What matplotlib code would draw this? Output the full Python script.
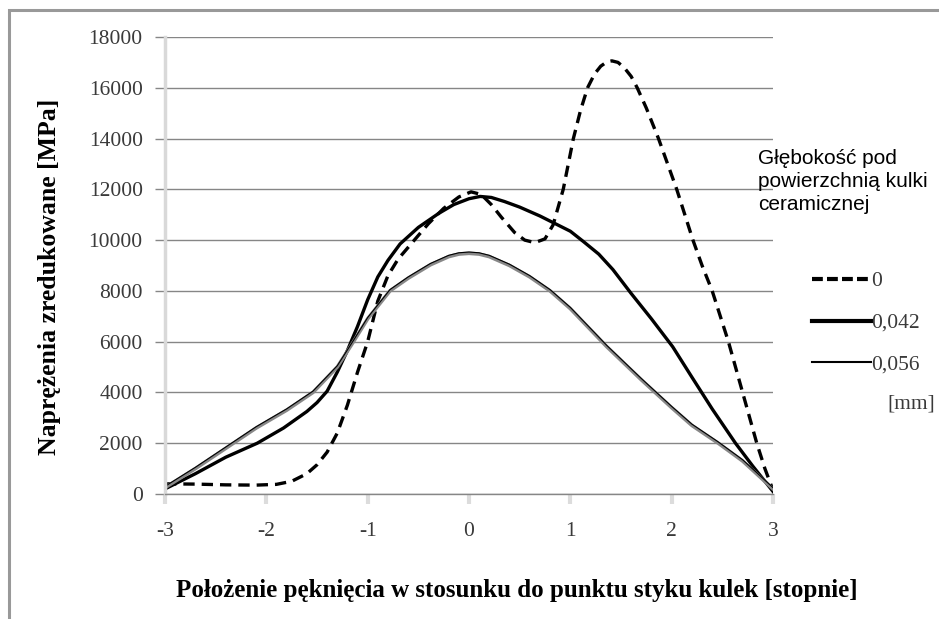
import matplotlib
matplotlib.use("Agg")
import matplotlib.pyplot as plt
import matplotlib.transforms as mtransforms
from matplotlib.lines import Line2D
from matplotlib.patches import Rectangle

# --- data ---
x_0 = [-3, -2.7, -2.4, -2.1, -1.9, -1.75, -1.6, -1.5, -1.4, -1.3, -1.2, -1.1, -1.0,
       -0.9, -0.8, -0.7, -0.55, -0.4, -0.25, -0.1, 0.02, 0.12, 0.22, 0.32, 0.45, 0.55,
       0.65, 0.75, 0.83, 0.93, 1.03, 1.1, 1.17, 1.24, 1.3, 1.36, 1.41, 1.47, 1.53, 1.6,
       1.66, 1.75, 1.87, 1.96, 2.05, 2.13, 2.21, 2.3, 2.4, 2.48, 2.56, 2.63, 2.7, 2.77,
       2.84, 2.92, 3.0]
y_0 = [400, 390, 360, 350, 380, 500, 800, 1150, 1650, 2400, 3500, 4800, 6000,
       7600, 8600, 9250, 9950, 10650, 11250, 11700, 11900, 11800, 11400, 10900, 10300, 10000,
       9900, 10050, 10600, 12000, 14000, 15100, 16000, 16550, 16850, 17020, 17060, 17000, 16800, 16450,
       16000, 15200, 14000, 13000, 12000, 11000, 10000, 9000, 8000, 7000, 6000, 5000, 4000, 3000,
       2000, 1000, 150]

x_042 = [-3, -2.7, -2.4, -2.09, -1.83, -1.6, -1.5, -1.4, -1.3, -1.2, -1.1, -1.0, -0.9,
         -0.8, -0.68, -0.5, -0.3, -0.15, 0.0, 0.11, 0.22, 0.35, 0.5, 0.7, 0.83, 1.0, 1.13,
         1.28, 1.42, 1.6, 1.8, 2.01, 2.2, 2.4, 2.63, 2.8, 3.0]
y_042 = [200, 800, 1450, 2000, 2600, 3250, 3600, 4050, 4800, 5650, 6600, 7650, 8550,
         9200, 9850, 10500, 11050, 11400, 11630, 11720, 11680, 11520, 11300, 10950, 10690, 10350, 9940,
         9450, 8840, 7900, 6900, 5800, 4600, 3350, 2000, 1100, 100]

x_056 = [-3, -2.7, -2.4, -2.1, -1.8, -1.54, -1.3, -1.14, -1.0, -0.78, -0.6, -0.38, -0.2,
         -0.1, 0.0, 0.1, 0.2, 0.4, 0.6, 0.8, 1.0, 1.36, 1.7, 2.0, 2.2, 2.46, 2.7, 3.0]
y_056 = [250, 1000, 1800, 2600, 3300, 4000, 5000, 6000, 6900, 8000, 8500, 9030, 9350,
         9450, 9480, 9450, 9350, 9000, 8550, 8000, 7300, 5800, 4500, 3400, 2700, 2000, 1300, 200]

labels = ["0", "0,042", "0,056"]
xticks = [-3, -2, -1, 0, 1, 2, 3]
yticks = list(range(0, 18001, 2000))

W, H = 939, 619
serif = "Liberation Serif"
sans = "Liberation Sans"
plt.rcParams["font.family"] = serif

fig = plt.figure(figsize=(W / 100, H / 100), dpi=100)
ax = fig.add_axes([165 / W, 1 - 494 / H, (773 - 165) / W, (494 - 37) / H])

grid_c = "#868686"
ax.set_xlim(-3, 3)
ax.set_ylim(0, 18000)
ax.set_yticks(yticks)
ax.set_xticks(xticks)
ax.set_xticklabels([str(v) for v in xticks])
ax.grid(axis="y", color=grid_c, lw=1)
ax.set_axisbelow(True)
for s in ["top", "right"]:
    ax.spines[s].set_visible(False)
ax.spines["left"].set_color("#d9d9d9")
ax.spines["left"].set_linewidth(2.5)
ax.spines["bottom"].set_color(grid_c)
ax.spines["bottom"].set_linewidth(1)
ax.tick_params(axis="y", length=7, width=1, color=grid_c, pad=9,
               labelsize=15.5, labelcolor="#3a3a3a")
ax.tick_params(axis="x", length=7, width=3, color="#dcdcdc", pad=13,
               labelsize=15.5, labelcolor="#3a3a3a")

# series
ax.plot(x_0, y_0, color="black", lw=2.4, ls=(0, (3.4, 2.1)), solid_capstyle="butt")
ax.plot(x_042, y_042, color="black", lw=2.4)
ax.plot(x_056, y_056, color="#888888", lw=2.6)
shift = mtransforms.offset_copy(ax.transData, fig=fig, x=0, y=1.3, units="dots")
ax.plot(x_056, y_056, color="black", lw=0.8, transform=shift)

# legend
h0 = Line2D([], [], color="black", lw=3, ls=(0, (2.6, 1.0)))
h1 = Line2D([], [], color="black", lw=3)
h2 = Line2D([], [], color="black", lw=1.5)
leg = fig.legend([h0, h1, h2], labels, loc="upper left",
                 bbox_to_anchor=(793 / W, 1 - 252 / H), frameon=False,
                 handlelength=2.7, handletextpad=0.05, labelspacing=1.0,
                 prop={"family": serif, "size": 15.5})
for t in leg.get_texts():
    t.set_color("#3a3a3a")

fig.text(758 / W, 1 - 149 / H, "Głębokość pod\npowierzchnią kulki\nceramicznej",
         family=sans, fontsize=15, ha="left", va="top", linespacing=1.28)
fig.text(887 / W, 1 - 404 / H, "[mm]", family=serif, fontsize=15.5,
         color="#3a3a3a", ha="left", va="center")

# axis titles
fig.text(517 / W, 1 - 590 / H,
         "Położenie pęknięcia w stosunku do punktu styku kulek [stopnie]",
         fontweight="bold", fontsize=18, ha="center", va="center")
fig.text(50 / W, 1 - 277 / H, "Naprężenia zredukowane [MPa]",
         fontweight="bold", fontsize=18.5, ha="center", va="center", rotation=90)

# outer chart border (cut off at right and bottom)
fig.patches.append(Rectangle((9 / W, -0.2), 1.2, 1.2 - 10 / H, transform=fig.transFigure,
                             fill=False, edgecolor="#999999", lw=2.2))

fig.savefig("out.png", dpi=100)
